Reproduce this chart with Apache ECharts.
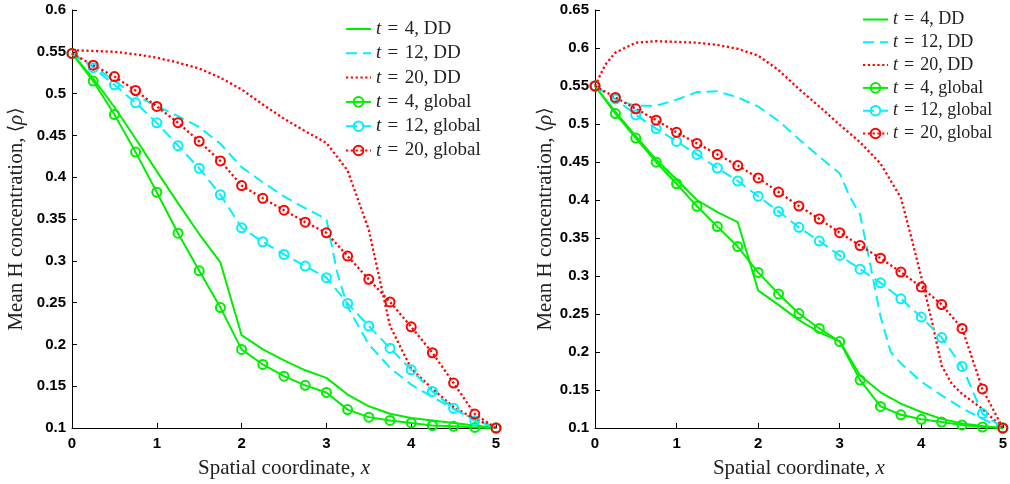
<!DOCTYPE html>
<html><head><meta charset="utf-8">
<script src="https://cdn.jsdelivr.net/npm/echarts@6/dist/echarts.min.js"></script>
<style>html,body{margin:0;padding:0;background:#fff}#c{width:1010px;height:484px}</style>
</head><body><div id="c"></div>
<script>
// ---------- data ----------
const xGlobal = [0,0.25,0.5,0.75,1,1.25,1.5,1.75,2,2.25,2.5,2.75,3,3.25,3.5,3.75,4,4.25,4.5,4.75,5];

// left panel
const leftXDD4  = [0,0.25,0.5,0.75,1,1.25,1.5,1.75,2,2.25,2.5,2.75,3,3.25,3.5,3.75,4,4.25,4.5,4.75,5];
const leftDD4   = [0.548,0.518,0.484,0.446,0.407,0.369,0.332,0.298,0.211,0.194,0.181,0.169,0.160,0.140,0.126,0.117,0.112,0.109,0.106,0.103,0.100];
const leftXDD12 = [0,0.25,0.5,0.75,1,1.25,1.5,1.75,2,2.25,2.5,2.75,3,3.125,3.25,3.5,3.75,4,4.25,4.5,4.75,5];
const leftDD12  = [0.548,0.533,0.515,0.498,0.485,0.473,0.460,0.440,0.412,0.394,0.377,0.363,0.350,0.287,0.245,0.200,0.172,0.152,0.137,0.123,0.110,0.100];
const leftXDD20 = [0,0.25,0.5,0.75,1,1.25,1.5,1.75,2,2.25,2.5,2.75,3,3.25,3.5,3.75,4,4.25,4.5,4.75,5];
const leftDD20  = [0.552,0.551,0.550,0.547,0.543,0.537,0.530,0.519,0.505,0.487,0.470,0.455,0.441,0.408,0.337,0.222,0.171,0.147,0.125,0.111,0.100];
const leftG4    = [0.548,0.515,0.475,0.430,0.382,0.333,0.288,0.244,0.194,0.176,0.162,0.151,0.1425,0.122,0.113,0.109,0.106,0.103,0.102,0.1007,0.100];
const leftG12   = [0.548,0.531,0.5105,0.489,0.465,0.4377,0.4107,0.379,0.3395,0.3228,0.3076,0.2937,0.2798,0.249,0.222,0.1955,0.1696,0.1438,0.1235,0.1087,0.100];
const leftG20   = [0.548,0.534,0.5204,0.5037,0.4846,0.4652,0.4429,0.4194,0.390,0.3748,0.3605,0.3462,0.3335,0.3056,0.2778,0.2508,0.221,0.190,0.1537,0.1167,0.100];

// right panel
const rightXDD4  = [0,0.25,0.5,0.75,1,1.25,1.5,1.75,2,2.25,2.5,2.75,3,3.25,3.5,3.75,4,4.25,4.5,4.75,5];
const rightDD4   = [0.55,0.516,0.484,0.453,0.427,0.400,0.384,0.371,0.281,0.262,0.242,0.226,0.214,0.169,0.147,0.132,0.121,0.112,0.106,0.1025,0.100];
const rightXDD12 = [0,0.25,0.5,0.75,1,1.25,1.5,1.75,2,2.25,2.5,2.75,3,3.125,3.25,3.375,3.5,3.625,3.75,4,4.25,4.5,4.75,5];
const rightDD12  = [0.55,0.532,0.524,0.524,0.532,0.542,0.543,0.535,0.523,0.504,0.480,0.457,0.435,0.404,0.381,0.315,0.247,0.200,0.185,0.161,0.143,0.126,0.112,0.100];
const rightXDD20 = [0,0.125,0.25,0.5,0.75,1,1.25,1.5,1.75,2,2.25,2.5,2.75,3,3.25,3.5,3.75,3.875,4,4.125,4.25,4.375,4.5,4.75,5];
const rightDD20  = [0.55,0.578,0.594,0.607,0.609,0.608,0.607,0.604,0.599,0.590,0.571,0.546,0.523,0.499,0.476,0.448,0.403,0.352,0.299,0.243,0.182,0.158,0.145,0.125,0.100];
const rightG4    = [0.55,0.5137,0.4815,0.4497,0.4214,0.3917,0.3650,0.3387,0.3047,0.2764,0.2506,0.231,0.2137,0.163,0.1284,0.1174,0.1114,0.1078,0.1039,0.1013,0.100];
const rightG12   = [0.55,0.533,0.512,0.494,0.477,0.460,0.442,0.425,0.405,0.385,0.364,0.346,0.327,0.309,0.291,0.270,0.246,0.219,0.181,0.119,0.100];
const rightG20   = [0.55,0.535,0.520,0.505,0.489,0.4745,0.460,0.4453,0.429,0.4105,0.392,0.375,0.357,0.340,0.3234,0.3051,0.2855,0.2624,0.231,0.1514,0.100];

const names = ['t = 4, DD','t = 12, DD','t = 20, DD','t = 4, global','t = 12, global','t = 20, global'];
const xTicks = [0,1,2,3,4,5];
const xName = 'Spatial coordinate, ';
const yName = 'Mean H concentration, ';

// ---------- styles ----------
const GREEN = '#00ee00', CYAN = '#00f0ff', RED = '#ff0000';
const styleOf = {
  green: {color: GREEN, type: 'solid', width: 2},
  cyan:  {color: CYAN,  type: [11, 6], width: 2},
  red:   {color: RED,   type: [2.2, 2.6], width: 2.3}
};
function zip(xs, ys){ return xs.map((x,i)=>[x, ys[i]]); }
function mk(name, xs, ys, idx, key, marker){
  const st = styleOf[key];
  return {
    name, type: 'line', xAxisIndex: idx, yAxisIndex: idx,
    data: zip(xs, ys),
    symbol: marker ? 'circle' : 'none',
    symbolSize: 9,
    showSymbol: marker,
    animation: false,
    lineStyle: {color: st.color, width: st.width, type: st.type},
    itemStyle: marker ? {color: 'rgba(255,255,255,0)', borderColor: st.color, borderWidth: 2}
                      : {color: st.color, opacity: 0},
    emphasis: {disabled: true},
    z: 2
  };
}
const series = [
  mk(names[0], leftXDD4, leftDD4, 0, 'green', false),
  mk(names[1], leftXDD12, leftDD12, 0, 'cyan', false),
  mk(names[2], leftXDD20, leftDD20, 0, 'red', false),
  mk(names[3], xGlobal, leftG4, 0, 'green', true),
  mk(names[4], xGlobal, leftG12, 0, 'cyan', true),
  mk(names[5], xGlobal, leftG20, 0, 'red', true),
  mk(names[0], rightXDD4, rightDD4, 1, 'green', false),
  mk(names[1], rightXDD12, rightDD12, 1, 'cyan', false),
  mk(names[2], rightXDD20, rightDD20, 1, 'red', false),
  mk(names[3], xGlobal, rightG4, 1, 'green', true),
  mk(names[4], xGlobal, rightG12, 1, 'cyan', true),
  mk(names[5], xGlobal, rightG20, 1, 'red', true)
];

const SERIF = '"Liberation Serif", "Times New Roman", serif';
function legendCfg(left, top, fs, lh, gap){
  return {
    data: names, left, top, orient: 'vertical', itemWidth: 25, itemHeight: 12, itemGap: gap,
    selectedMode: false, padding: 0,
    formatter: n => '{i|t}{r|' + n.slice(1).replace(' = ', '\u2004=\u2004') + '}',
    textStyle: {color: '#222', fontFamily: SERIF, fontSize: fs, lineHeight: lh,
      rich: {
        i: {fontFamily: SERIF, fontStyle: 'italic', fontSize: fs, color: '#222', lineHeight: lh},
        r: {fontFamily: SERIF, fontSize: fs, color: '#222', lineHeight: lh}
      }}
  };
}
function xAxisCfg(idx, gap){
  return {
    type: 'value', gridIndex: idx, min: xTicks[0], max: xTicks[xTicks.length-1], interval: 1,
    name: '{r|' + xName + '}{i|x}', nameLocation: 'middle', nameGap: gap,
    nameTextStyle: {rich: {
      r: {fontFamily: SERIF, fontSize: 21, color: '#222'},
      i: {fontFamily: SERIF, fontSize: 21, fontStyle: 'italic', color: '#222'}}},
    axisLine: {show: true, onZero: false, lineStyle: {color: '#000', width: 1}},
    axisTick: {show: true, inside: true, length: 5, lineStyle: {color: '#000'}},
    axisLabel: {color: '#000', fontWeight: 'bold', fontFamily: '"Liberation Sans", Arial, sans-serif', fontSize: 15, margin: 8},
    splitLine: {show: false}
  };
}
function yAxisCfg(idx, min, max, gap){
  return {
    type: 'value', gridIndex: idx, min, max, interval: 0.05,
    name: '{r|' + yName + '}{a|\u27E8}{i|\u03C1}{a|\u27E9}', nameLocation: 'middle', nameGap: gap,
    nameTextStyle: {rich: {
      r: {fontFamily: SERIF, fontSize: 21, color: '#222'},
      a: {fontFamily: '"DejaVu Serif", serif', fontSize: 19, color: '#222'},
      i: {fontFamily: SERIF, fontSize: 21, fontStyle: 'italic', color: '#222'}}},
    axisLine: {show: true, onZero: false, lineStyle: {color: '#000', width: 1}},
    axisTick: {show: true, inside: true, length: 5, lineStyle: {color: '#000'}},
    axisLabel: {color: '#000', fontWeight: 'bold', fontFamily: '"Liberation Sans", Arial, sans-serif', fontSize: 15, margin: 6},
    splitLine: {show: false}
  };
}

const chart = echarts.init(document.getElementById('c'), null, {renderer: 'canvas'});
chart.setOption({
  backgroundColor: '#fff',
  animation: false,
  grid: [
    {left: 72, top: 10, width: 424, height: 419},
    {left: 595, top: 10, width: 410, height: 421}
  ],
  legend: [legendCfg(345, 19, 19, 20, 4.3), legendCfg(862, 10, 18, 19, 3.8)],
  xAxis: [xAxisCfg(0, 30), xAxisCfg(1, 30)],
  yAxis: [yAxisCfg(0, 0.1, 0.6, 45), yAxisCfg(1, 0.1, 0.65, 38)],
  series
});
</script></body></html>
